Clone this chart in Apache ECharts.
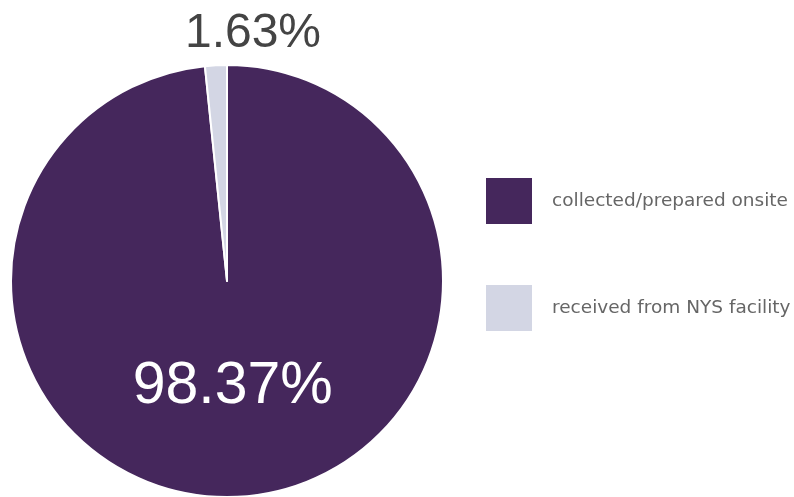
<!DOCTYPE html>
<html lang="en">
<head>
    <meta charset="UTF-8">
    <title>Source</title>
    <script src="https://cdn.jsdelivr.net/npm/echarts@6/dist/echarts.min.js"></script>
    <style>
        html, body { margin: 0; padding: 0; background: #fff; }
    </style>
</head>
<body>
<div id="pie" style="width: 794px;height: 497px;"></div>
<script>
    // data
    var categories = ['collected/prepared onsite', 'received from NYS facility'];
    var percents = [98.37, 1.63];
    var colors = ['#45275c', '#d3d6e4'];

    var myEcharts = echarts.init(document.getElementById('pie'));

    var seriesData = categories.map(function (name, i) {
        return {name: name, value: percents[i], itemStyle: {color: colors[i]}};
    });

    var option = {
        animation: false,
        legend: {
            orient: 'vertical',
            left: 486,
            top: 178,
            padding: 0,
            icon: 'rect',
            itemWidth: 46,
            itemHeight: 46,
            itemGap: 61,
            selectedMode: false,
            itemStyle: {borderWidth: 0},
            textStyle: {
                color: '#666',
                fontSize: 18.5,
                fontFamily: 'DejaVu Sans',
                padding: [0, 0, 0, 15]
            },
            data: categories
        },
        series: [{
            type: 'pie',
            center: [227, 281],
            radius: 216,
            startAngle: 90,
            clockwise: true,
            itemStyle: {borderColor: '#fff', borderWidth: 2},
            label: {
                position: 'inside',
                formatter: function (p) { return p.value.toFixed(2) + '%'; },
                fontFamily: 'Liberation Sans',
                fontSize: 59,
                color: '#fff'
            },
            labelLine: {show: false},
            labelLayout: function (p) {
                if (p.dataIndex === 1) {
                    return {x: 253, y: 34, align: 'center', verticalAlign: 'middle'};
                }
                return {dy: -5};
            },
            data: [
                seriesData[0],
                {
                    name: seriesData[1].name,
                    value: seriesData[1].value,
                    itemStyle: seriesData[1].itemStyle,
                    label: {color: '#444', fontSize: 48}
                }
            ]
        }]
    };
    myEcharts.setOption(option);
</script>
</body>
</html>
